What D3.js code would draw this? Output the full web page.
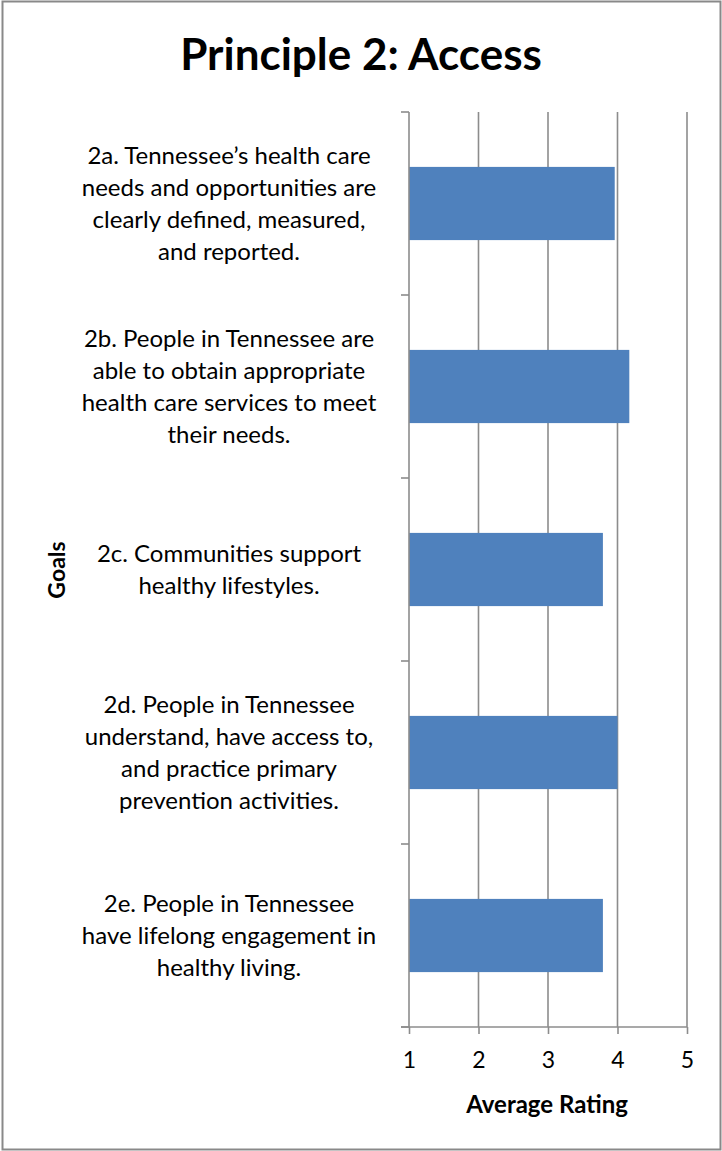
<!DOCTYPE html>
<html>
<head>
<meta charset="utf-8">
<script src="https://cdn.jsdelivr.net/npm/d3@7"></script>
<style>
  html, body { margin: 0; padding: 0; background: #fff; }
  svg { display: block; }
  text { font-family: Lato, "Open Sans", "Liberation Sans", sans-serif; fill: #000; }
</style>
</head>
<body>
<svg id="chart" width="722" height="1151"></svg>
<script>
// Goal labels, wrapped as displayed
const goals = ["2a", "2b", "2c", "2d", "2e"];
const goalLines = [
  ["2a. Tennessee\u2019s health care", "needs and opportunities are", "clearly defined, measured,", "and reported."],
  ["2b. People in Tennessee are", "able to obtain appropriate", "health care services to meet", "their needs."],
  ["2c. Communities support", "healthy lifestyles."],
  ["2d. People in Tennessee", "understand, have access to,", "and practice primary", "prevention activities."],
  ["2e. People in Tennessee", "have lifelong engagement in", "healthy living."]
];
const ratings = [3.96, 4.17, 3.79, 4.0, 3.79];
const ratingTicks = [1, 2, 3, 4, 5];

const title = "Principle 2: Access";
const xTitle = "Average Rating";
const yTitle = "Goals";

const svg = d3.select("#chart");
const W = 722, H = 1151;

// outer frame
svg.append("rect")
  .attr("x", 2.5).attr("y", 1.5)
  .attr("width", W - 4).attr("height", H - 3)
  .attr("fill", "#fff").attr("stroke", "#898989").attr("stroke-width", 2);

const plot = { left: 409, right: 687, top: 112, bottom: 1027 };

const x = d3.scaleLinear().domain([1, 5]).range([plot.left, plot.right]);
const y = d3.scaleBand().domain(goals).range([plot.top, plot.bottom])
  .paddingInner(0.6).paddingOuter(0.3);

const gridColor = "#8c8c8c";

// vertical gridlines
svg.append("g").selectAll("line")
  .data(ratingTicks.slice(1))
  .join("line")
  .attr("x1", d => x(d)).attr("x2", d => x(d))
  .attr("y1", plot.top).attr("y2", plot.bottom)
  .attr("stroke", gridColor).attr("stroke-width", 1.6);

// bars
svg.append("g").selectAll("rect")
  .data(goals)
  .join("rect")
  .attr("x", x(1))
  .attr("y", d => y(d))
  .attr("width", (d, i) => x(ratings[i]) - x(1))
  .attr("height", y.bandwidth())
  .attr("fill", "#4f81bd");

// category axis (ticks at band boundaries)
const boundaries = goals.map(g => y(g) - y.step() * y.paddingInner() / 2);
boundaries[0] = plot.top;
boundaries.push(plot.bottom);
const yAxisG = svg.append("g");
yAxisG.append("line")
  .attr("x1", plot.left).attr("x2", plot.left)
  .attr("y1", plot.top).attr("y2", plot.bottom)
  .attr("stroke", gridColor).attr("stroke-width", 1.6);
yAxisG.selectAll("line.tick")
  .data(boundaries)
  .join("line").attr("class", "tick")
  .attr("x1", plot.left - 8).attr("x2", plot.left)
  .attr("y1", d => d).attr("y2", d => d)
  .attr("stroke", gridColor).attr("stroke-width", 1.6);

// value axis
const xAxis = d3.axisBottom(x).tickValues(ratingTicks).tickSize(7).tickPadding(18)
  .tickFormat(d3.format("d"));
const xAxisG = svg.append("g")
  .attr("transform", `translate(0,${plot.bottom})`)
  .call(xAxis);
xAxisG.select(".domain").remove();
xAxisG.append("line")
  .attr("x1", plot.left - 8).attr("x2", plot.right)
  .attr("stroke", gridColor).attr("stroke-width", 1.6);
xAxisG.selectAll(".tick line").attr("stroke", gridColor).attr("stroke-width", 1.6);
xAxisG.selectAll(".tick text")
  .attr("font-size", 23)
  .attr("font-family", "Lato, 'Open Sans', sans-serif")
  .attr("fill", "#000");

// category labels
const lineGap = 32;
const labelCx = 229;
svg.append("g").selectAll("text")
  .data(goals)
  .join("text")
  .attr("text-anchor", "middle")
  .attr("font-size", 24)
  .each(function (d, i) {
    const lines = goalLines[i];
    const cy = y(d) + y.bandwidth() / 2;
    const first = cy - (lines.length - 1) * lineGap / 2;
    d3.select(this).selectAll("tspan")
      .data(lines)
      .join("tspan")
      .attr("x", labelCx)
      .attr("y", (l, j) => first + j * lineGap)
      .attr("dy", "0.35em")
      .text(l => l);
  });

// titles
svg.append("text")
  .attr("x", 361).attr("y", 70)
  .attr("text-anchor", "middle")
  .attr("font-size", 44).attr("font-weight", 700)
  .text(title);

svg.append("text")
  .attr("x", 547).attr("y", 1113)
  .attr("text-anchor", "middle")
  .attr("font-size", 24).attr("font-weight", 700)
  .text(xTitle);

svg.append("text")
  .attr("transform", "translate(65,570) rotate(-90)")
  .attr("text-anchor", "middle")
  .attr("font-size", 23).attr("font-weight", 700)
  .text(yTitle);
</script>
</body>
</html>
